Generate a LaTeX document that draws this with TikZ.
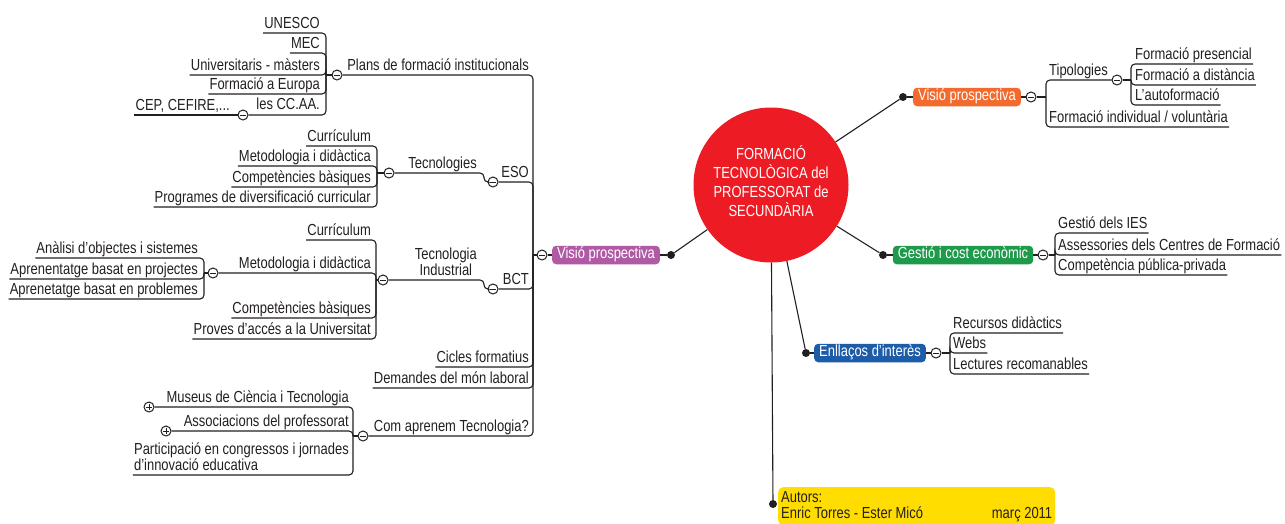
\documentclass[tikz,border=0pt]{standalone}
\usepackage{fontspec}
\newfontfamily\mapfont{Liberation Sans}[FakeStretch=0.81]
\definecolor{ink}{HTML}{231F20}
\definecolor{corered}{HTML}{ED1C24}
\definecolor{hubpurple}{HTML}{B05AA6}
\definecolor{huborange}{HTML}{F26A2D}
\definecolor{hubgreen}{HTML}{1E9A4B}
\definecolor{hubblue}{HTML}{1C5CA9}
\definecolor{hubyellow}{HTML}{FFDD00}
\newcommand{\lowstrut}{\rule[-3.5pt]{0pt}{3.5pt}}
\newcommand{\natsp}{\spaceskip=0pt\xspaceskip=0pt\relax}
\begin{document}
\begin{tikzpicture}
    [
    x=1pt,y=-1pt,
    every node/.style={font=\mapfont\fontsize{16}{16}\selectfont,text=ink},
    tp/.style={inner xsep=1pt,inner ysep=0.5pt,text height=11pt,text depth=3.5pt},
    lt/.style={tp,anchor=south east},
    rt/.style={tp,anchor=south west},
    lt2/.style={inner xsep=1pt,inner ysep=0.5pt,anchor=south east},
    link/.style={draw=ink,line width=1.1pt,rounded corners=4pt},
    trunk/.style={draw=ink,line width=1.1pt},
    knob/.style={circle,draw=ink,line width=1pt,fill=white,inner sep=0pt,minimum size=10pt},
    minus/.style={knob,path picture={\draw [ink,line width=0.9pt] ([xshift=-2.7pt]path picture bounding box.center) -- ([xshift=2.7pt]path picture bounding box.center);}},
    plus/.style={knob,path picture={\draw [ink,line width=0.9pt] ([xshift=-2.7pt]path picture bounding box.center) -- ([xshift=2.7pt]path picture bounding box.center) ([yshift=-2.7pt]path picture bounding box.center) -- ([yshift=2.7pt]path picture bounding box.center);}},
    dot/.style={circle,fill=ink,inner sep=0pt,minimum size=8pt},
    hub/.style={rounded corners=4pt,text=white,inner xsep=5pt,inner ysep=2pt,text height=11pt,text depth=3.5pt}
    ]
    \useasboundingbox (0,0) rectangle (1285,523);

    \node (core) at (771,185) [circle,fill=corered,minimum size=155pt,inner sep=0pt,text=white,align=center,font=\mapfont\fontsize{16}{19}\selectfont] {\natsp FORMACIÓ\\TECNOLÒGICA del\\PROFESSORAT de\\SECUNDÀRIA\rule[-8pt]{0pt}{8pt}};

    \node (vpl) at (606,255) [hub,fill=hubpurple] {Visió prospectiva};
    \node (dvpl) at (671,255) [dot] {};
    \node (kvpl) at (542,255) [minus] {};
    \coordinate (svpl) at (533,255);
    \draw [trunk] (core) -- (dvpl);
    \draw [link] (dvpl) -- (vpl);
    \draw [link] (vpl) -- (kvpl);
    \draw [link] (kvpl) -- (svpl);

    \node (pla) at (530,75) [lt] {Plans de formació institucionals};
    \node (kpla) at (337,75) [minus] {};
    \draw [link] (kpla) -| (svpl);
    \coordinate (spla) at (326,75);
    \draw [link] (spla) -- (kpla);
    \node (une) at (321,33) [lt] {UNESCO};
    \node (mec) at (321,53) [lt] {MEC};
    \node (uni) at (321,75) [lt] {Universitaris - màsters};
    \node (eur) at (321,94) [lt] {Formació a Europa};
    \node (cca) at (321,114) [lt] {les CC.AA.};
    \node (kcca) at (243,115) [minus] {};
    \node (cep) at (231,115) [lt] {CEP, CEFIRE,...};
    \draw [link] (une.south west) -| (spla);
    \draw [link] (mec.south west) -| (spla);
    \draw [link] (uni.south west) -| (spla);
    \draw [link] (eur.south west) -| (spla);
    \draw [link] (kcca) -| (spla);
    \draw [link] (cep.south west) -- (kcca);

    \node (eso) at (530,182) [lt] {ESO};
    \node (keso) at (493,182) [minus] {};
    \draw [link] (keso) -| (svpl);
    \coordinate (seso) at (484,182);
    \node (tec) at (478,173) [lt] {Tecnologies};
    \node (ktec) at (389,173) [minus] {};
    \draw [link] (ktec) -| (seso) -- (keso);
    \coordinate (stec) at (377,173);
    \draw [link] (stec) -- (ktec);
    \node (cu1) at (372,146) [lt] {Currículum};
    \node (md1) at (372,166) [lt] {Metodologia i didàctica};
    \node (cb1) at (372,187) [lt] {Competències bàsiques};
    \node (pdc) at (372,207) [lt] {Programes de diversificació curricular};
    \draw [link] (cu1.south west) -| (stec);
    \draw [link] (md1.south west) -| (stec);
    \draw [link] (cb1.south west) -| (stec);
    \draw [link] (pdc.south west) -| (stec);

    \node (bct) at (530,289) [lt] {BCT};
    \node (kbct) at (493,289) [minus] {};
    \draw [link] (kbct) -| (svpl);
    \coordinate (sbct) at (484,289);
    \node (ti) at (478,280) [lt2,align=center] {Tecnologia\\Industrial\lowstrut};
    \node (kti) at (383,280) [minus] {};
    \draw [link] (kti) -| (sbct) -- (kbct);
    \coordinate (sti) at (376,280);
    \draw [link] (sti) -- (kti);
    \node (cu2) at (372,240) [lt] {Currículum};
    \node (md2) at (372,273) [lt] {Metodologia i didàctica};
    \node (kmd2) at (213,273) [minus] {};
    \node (cb2) at (372,318) [lt] {Competències bàsiques};
    \node (pau) at (372,339) [lt] {Proves d’accés a la Universitat};
    \draw [link] (cu2.south west) -| (sti);
    \draw [link] (kmd2) -| (sti);
    \draw [link] (cb2.south west) -| (sti);
    \draw [link] (pau.south west) -| (sti);
    \coordinate (smd2) at (204,273);
    \draw [link] (smd2) -- (kmd2);
    \node (ana) at (199,258) [lt] {Anàlisi d’objectes i sistemes};
    \node (apj) at (199,279) [lt] {Aprenentatge basat en projectes};
    \node (apb) at (199,299) [lt] {Aprenetatge basat en problemes};
    \draw [link] (ana.south west) -| (smd2);
    \draw [link] (apj.south west) -| (smd2);
    \draw [link] (apb.south west) -| (smd2);

    \node (cic) at (530,367) [lt] {Cicles formatius};
    \node (dem) at (530,388) [lt] {Demandes del món laboral};
    \draw [link] (cic.south west) -| (svpl);
    \draw [link] (dem.south west) -| (svpl);

    \node (com) at (530,436) [lt] {Com aprenem Tecnologia?};
    \node (kcom) at (363,436) [minus] {};
    \draw [link] (kcom) -| (svpl);
    \coordinate (scom) at (353,436);
    \draw [link] (scom) -- (kcom);
    \node (mus) at (350,407) [lt] {Museus de Ciència i Tecnologia};
    \node (kmus) at (149,407) [plus] {};
    \node (aso) at (350,431) [lt] {Associacions del professorat};
    \node (kaso) at (166,431) [plus] {};
    \node (par) at (350,475) [lt2,align=left] {\natsp Participació en congressos i jornades\\d’innovació educativa\lowstrut};
    \draw [link] (kmus) -| (scom);
    \draw [link] (kaso) -| (scom);
    \draw [link] (par.south west) -| (scom);

    \node (vpr) at (967,97) [hub,fill=huborange] {Visió prospectiva};
    \node (dvpr) at (903,97) [dot] {};
    \node (kvpr) at (1031,97) [minus] {};
    \coordinate (svpr) at (1046,97);
    \draw [trunk] (core) -- (dvpr);
    \draw [link] (dvpr) -- (vpr);
    \draw [link] (vpr) -- (kvpr);
    \draw [link] (kvpr) -- (svpr);
    \node (tip) at (1048,80) [rt] {Tipologies};
    \node (ktip) at (1117,80) [minus] {};
    \node (fiv) at (1048,127) [rt] {Formació individual / voluntària};
    \draw [link] (ktip) -| (svpr);
    \draw [link] (fiv.south east) -| (svpr);
    \coordinate (stip) at (1131,80);
    \draw [link] (ktip) -- (stip);
    \node (fpr) at (1134,64) [rt] {Formació presencial};
    \node (fdi) at (1134,85) [rt] {Formació a distància};
    \node (fau) at (1134,105) [rt] {L’autoformació};
    \draw [link] (fpr.south east) -| (stip);
    \draw [link] (fdi.south east) -| (stip);
    \draw [link] (fau.south east) -| (stip);

    \node (gce) at (963,255) [hub,fill=hubgreen] {Gestió i cost econòmic};
    \node (dgce) at (883,255) [dot] {};
    \node (kgce) at (1043,255) [minus] {};
    \coordinate (sgce) at (1055,255);
    \draw [trunk] (core) -- (dgce);
    \draw [link] (dgce) -- (gce);
    \draw [link] (gce) -- (kgce);
    \draw [link] (kgce) -- (sgce);
    \node (gie) at (1057,233) [rt] {Gestió dels IES};
    \node (acf) at (1057,255) [rt] {Assessories dels Centres de Formació};
    \node (cpp) at (1057,275) [rt] {Competència pública-privada};
    \draw [link] (gie.south east) -| (sgce);
    \draw [link] (acf.south east) -| (sgce);
    \draw [link] (cpp.south east) -| (sgce);

    \node (enl) at (870,353) [hub,fill=hubblue] {Enllaços d’interès};
    \node (denl) at (806,353) [dot] {};
    \node (kenl) at (936,353) [minus] {};
    \coordinate (senl) at (950,353);
    \draw [trunk] (core) -- (denl);
    \draw [link] (denl) -- (enl);
    \draw [link] (enl) -- (kenl);
    \draw [link] (kenl) -- (senl);
    \node (rdi) at (952,333) [rt] {Recursos didàctics};
    \node (web) at (952,353) [rt] {Webs};
    \node (lre) at (952,374) [rt] {Lectures recomanables};
    \draw [link] (rdi.south east) -| (senl);
    \draw [link] (web.south east) -| (senl);
    \draw [link] (lre.south east) -| (senl);

    \node (aut) at (778,487) [anchor=north west,fill=hubyellow,rounded corners=5pt,minimum height=38pt,text width=271pt,align=left,inner xsep=3pt,inner ysep=2pt] {\natsp Autors:\\Enric Torres - Ester Micó\hfill març 2011};
    \node (daut) at (773,504) [dot] {};
    \draw [trunk] (core) -- (daut);
\end{tikzpicture}
\end{document}
